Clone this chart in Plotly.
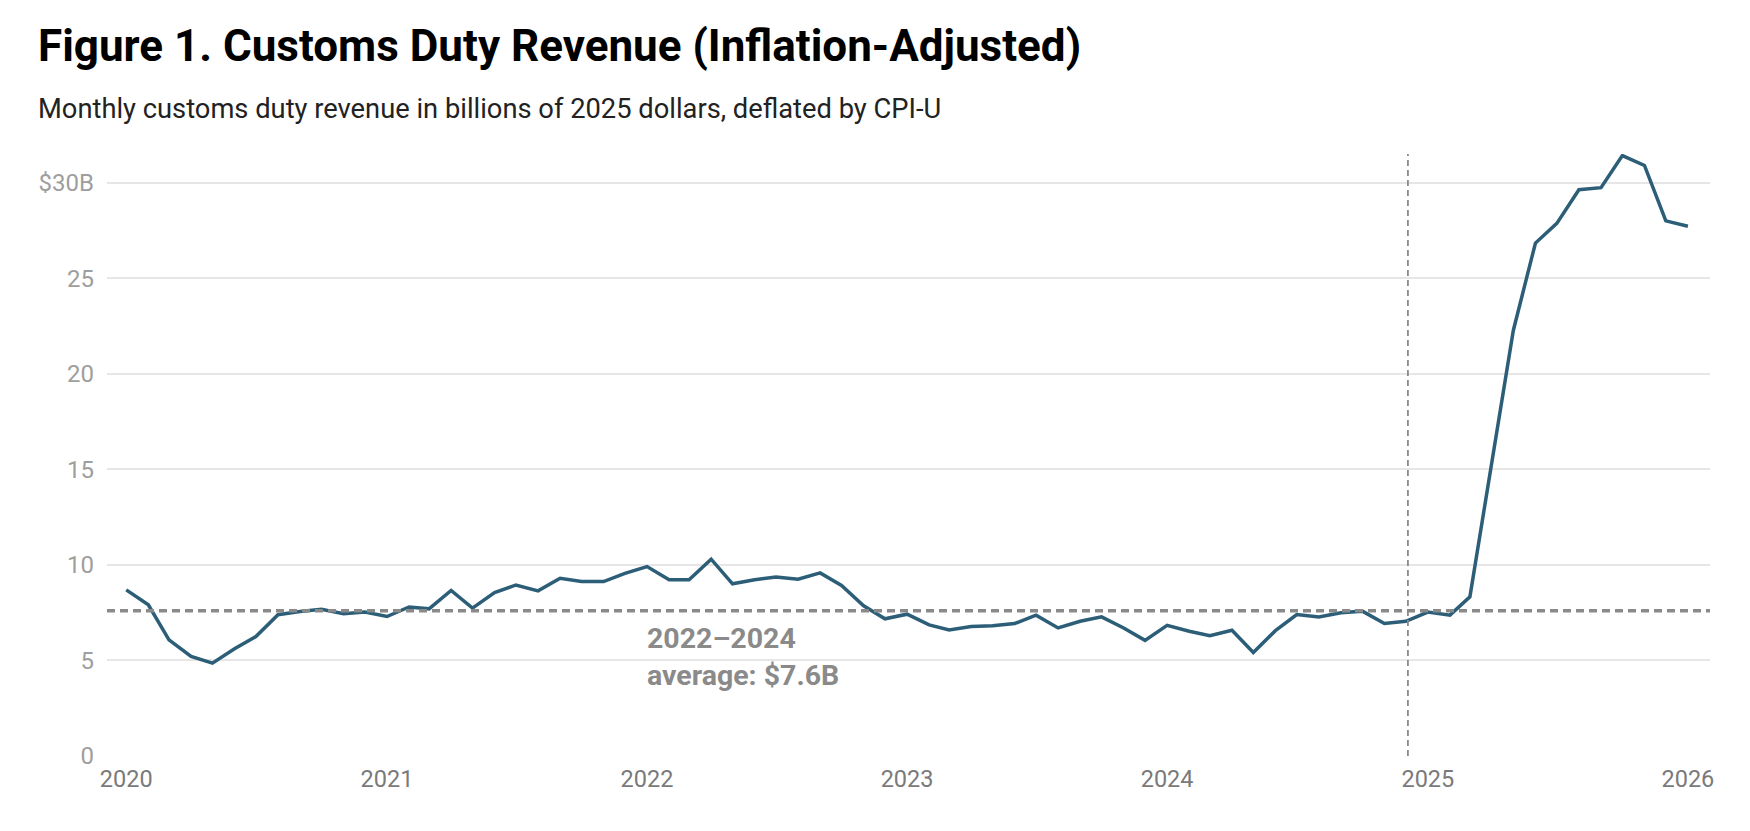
import pandas as pd
import plotly.graph_objects as go

# ---- data -------------------------------------------------------------
months = pd.date_range("2020-01-01", periods=73, freq="MS")
revenue = [
    # 2020
    8.69, 7.91, 6.08, 5.21, 4.86, 5.61, 6.25, 7.39, 7.56, 7.68, 7.44, 7.53,
    # 2021
    7.30, 7.80, 7.70, 8.66, 7.74, 8.55, 8.95, 8.64, 9.30, 9.13, 9.13, 9.56,
    # 2022
    9.91, 9.22, 9.22, 10.30, 9.01, 9.22, 9.37, 9.25, 9.58, 8.92, 7.86, 7.18,
    # 2023
    7.42, 6.86, 6.60, 6.77, 6.81, 6.93, 7.37, 6.70, 7.05, 7.28, 6.70, 6.05,
    # 2024
    6.84, 6.53, 6.30, 6.58, 5.42, 6.56, 7.40, 7.28, 7.49, 7.58, 6.93, 7.05,
    # 2025
    7.53, 7.37, 8.33, 15.5, 22.28, 26.84, 27.87, 29.63, 29.74, 31.42, 30.90, 28.00,
    # 2026
    27.72,
]
avg_2022_2024 = 7.6
marker_date = "2024-12-04"

y_ticks = [0, 5, 10, 15, 20, 25, 30]
y_tick_labels = ["0", "5", "10", "15", "20", "25", "$30B"]
x_ticks = ["2020-01-01", "2021-01-01", "2022-01-01", "2023-01-01",
           "2024-01-01", "2025-01-01", "2026-01-01"]
x_tick_labels = ["2020", "2021", "2022", "2023", "2024", "2025", "2026"]

title = "Figure 1. Customs Duty Revenue (Inflation-Adjusted)"
subtitle = "Monthly customs duty revenue in billions of 2025 dollars, deflated by CPI-U"
avg_label = "2022–2024<br>average: $7.6B"

# ---- figure -----------------------------------------------------------
FONT = "Roboto"
fig = go.Figure()
fig.add_trace(go.Scatter(
    x=months, y=revenue, mode="lines",
    line=dict(color="#2c5e78", width=3.5),
    hoverinfo="skip", showlegend=False,
))

fig.add_shape(type="line", xref="paper", x0=0, x1=1, yref="y",
              y0=avg_2022_2024, y1=avg_2022_2024,
              line=dict(color="#8a8a8a", width=3.5, dash="8px,5px"))
fig.add_shape(type="line", xref="x", x0=marker_date, x1=marker_date,
              yref="paper", y0=0, y1=1,
              line=dict(color="#8a8a8a", width=1.8, dash="6px,4px"))

fig.add_annotation(x="2021-12-29", y=5.2, xref="x", yref="y",
                   text=avg_label, showarrow=False, xanchor="left",
                   yanchor="middle", align="left",
                   font=dict(family=FONT, size=28.5, color="#8a8a8a", weight=700))

fig.add_annotation(xref="paper", yref="paper", x=-0.0443, y=1.179,
                   text=title, showarrow=False, xanchor="left", yanchor="middle",
                   font=dict(family=FONT, size=44, color="#000000", weight=700))
fig.add_annotation(xref="paper", yref="paper", x=-0.0443, y=1.075,
                   text=subtitle, showarrow=False, xanchor="left", yanchor="middle",
                   font=dict(family=FONT, size=27.3, color="#222222"))

fig.update_layout(
    width=1750, height=831,
    margin=dict(l=99, r=48, t=146, b=83),
    plot_bgcolor="white", paper_bgcolor="white",
    font=dict(family=FONT),
    xaxis=dict(
        type="date", range=["2019-12-05", "2026-02-01"],
        tickvals=x_ticks, ticktext=x_tick_labels,
        showgrid=False, zeroline=False, showline=False, ticks="",
        tickfont=dict(family=FONT, size=23.5, color="#7a7a7a"),
        ticklabelstandoff=6,
    ),
    yaxis=dict(
        range=[0, 31.5],
        tickvals=y_ticks, ticktext=y_tick_labels,
        showgrid=True, gridcolor="#e6e6e6", gridwidth=1.5,
        zeroline=False, showline=False, ticks="",
        tickfont=dict(family=FONT, size=24, color="#9e9e9e"),
        ticklabelstandoff=12,
    ),
)

fig.write_html("out.html")
